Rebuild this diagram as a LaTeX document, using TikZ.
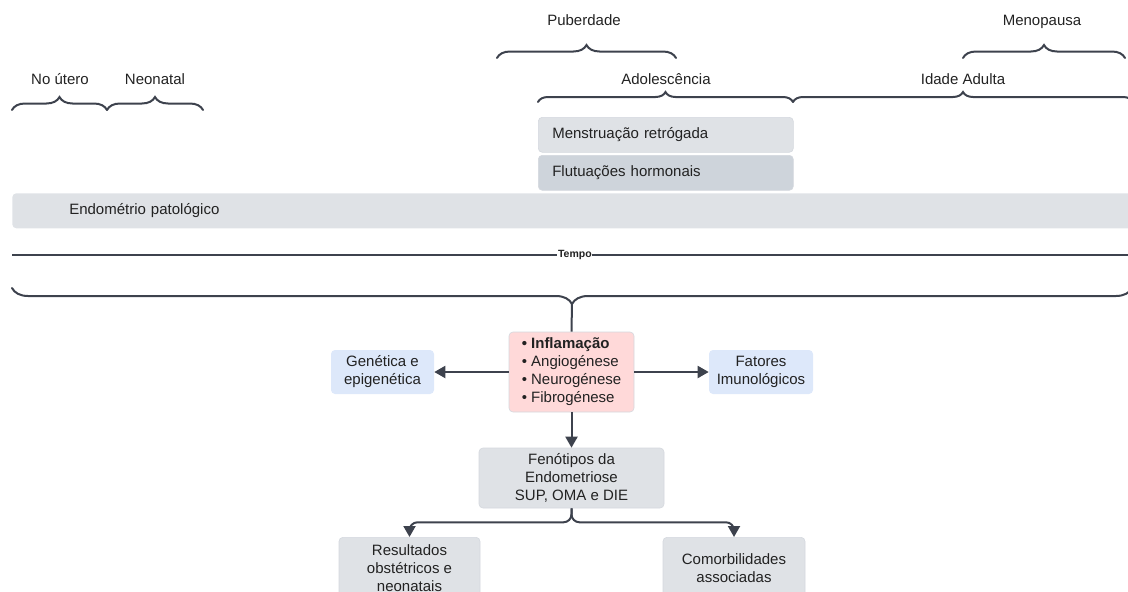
\documentclass[tikz,border=0pt]{standalone}
\usepackage{fontspec}
\setmainfont{Liberation Sans}
\usetikzlibrary{decorations.pathreplacing,arrows.meta}

\definecolor{linha}{RGB}{61,66,77}
\definecolor{texto}{RGB}{34,34,34}
\definecolor{cinza}{RGB}{223,226,230}
\definecolor{cinzaesc}{RGB}{206,212,219}
\definecolor{borda}{RGB}{212,216,222}
\definecolor{rosa}{RGB}{255,217,217}
\definecolor{azul}{RGB}{221,232,250}

\begin{document}
\begin{tikzpicture}[x=1pt,y=-1pt]
        \tikzstyle{every node}=[text=texto, font=\fontsize{15}{18}\selectfont]
        \tikzstyle{rotulo}=[text height=11pt, text depth=3pt]
        \tikzstyle{chave}=[draw=linha, line width=2pt, line cap=round, decorate, decoration={brace, amplitude=13pt}]
        \tikzstyle{caixa}=[rounded corners=4pt, fill=cinza, draw=borda, line width=0.6pt, align=center]
        \tikzstyle{barra}=[caixa, anchor=north west, align=left, minimum height=35, inner ysep=0pt]
        \tikzstyle{seta}=[draw=linha, line width=2pt, -{Triangle[length=11pt,width=12pt]}]

        \useasboundingbox (0,0) rectangle (1128,592);
        \clip (0,0) rectangle (1128,592);

        \node[rotulo](pub)at(584,21){Puberdade};
        \node[rotulo](meno)at(1042,21){Menopausa};
        \node[rotulo](utero)at(60,80){No útero};
        \node[rotulo](neo)at(155,80){Neonatal};
        \node[rotulo](adol)at(666,80){Adolescência};
        \node[rotulo](adulta)at(963,80){Idade Adulta};

        \draw[chave] (497,58) -- (676,58);
        \draw[chave] (963,58) -- (1125,58);
        \draw[chave] (12,110) -- (107,110);
        \draw[chave] (107,110) -- (203,110);
        \draw[chave, decoration={amplitude=10pt}] (538,102) -- (793,102);
        \draw[chave, decoration={amplitude=10pt}] (793,102) -- (1133,102);

        \node[barra, inner xsep=14pt, text width=227](menst)at(538,117){Menstruação retrógada};
        \node[barra, inner xsep=14pt, text width=227, fill=cinzaesc](flut)at(538,155){Flutuações hormonais};
        \node[barra, inner xsep=57pt, text width=1016, draw=none](endo)at(12,193){Endométrio patológico};

        \coordinate(t1)at(12,255);
        \coordinate(t2)at(1140,255);
        \draw[linha, line width=2.5pt] (t1) -- node[pos=0.499, fill=white, inner sep=0.8pt, font=\fontsize{10.5}{12}\bfseries\selectfont]{Tempo} (t2);

        \draw[chave, decoration={amplitude=16pt}] (1132,288) -- (12,288);
        \coordinate(ponta)at(572,303);

        \node[caixa, fill=rosa, align=left, minimum width=125, minimum height=80](infl)at(571.5,372)
            {\textbf{• Inflamação}\\• Angiogénese\\• Neurogénese\\• Fibrogénese};
        \node[caixa, fill=azul, minimum width=103, minimum height=44, draw=none](gen)at(382.5,372){Genética e\\epigenética};
        \node[caixa, fill=azul, minimum width=104, minimum height=44, draw=none](fat)at(761,372){Fatores\\Imunológicos};
        \node[caixa, minimum width=185, minimum height=60](fen)at(571.5,478){Fenótipos da\\Endometriose\\SUP, OMA e DIE};
        \node[caixa, anchor=north, minimum width=141, minimum height=62](res)at(409.5,537){Resultados\\obstétricos e\\neonatais};
        \node[caixa, anchor=north, minimum width=142, minimum height=62](com)at(734,537){Comorbilidades\\associadas};

        \draw[linha, line width=2pt] (ponta) -- (infl.north);
        \draw[seta] (infl.west) -- (gen.east);
        \draw[seta] (infl.east) -- (fat.west);
        \draw[seta] (infl.south) -- (fen.north);
        \draw[seta, rounded corners=8pt] (fen.south) -- ++(0,14) -| (res.north);
        \draw[seta, rounded corners=8pt] (fen.south) -- ++(0,14) -| (com.north);
    \end{tikzpicture}
\end{document}
